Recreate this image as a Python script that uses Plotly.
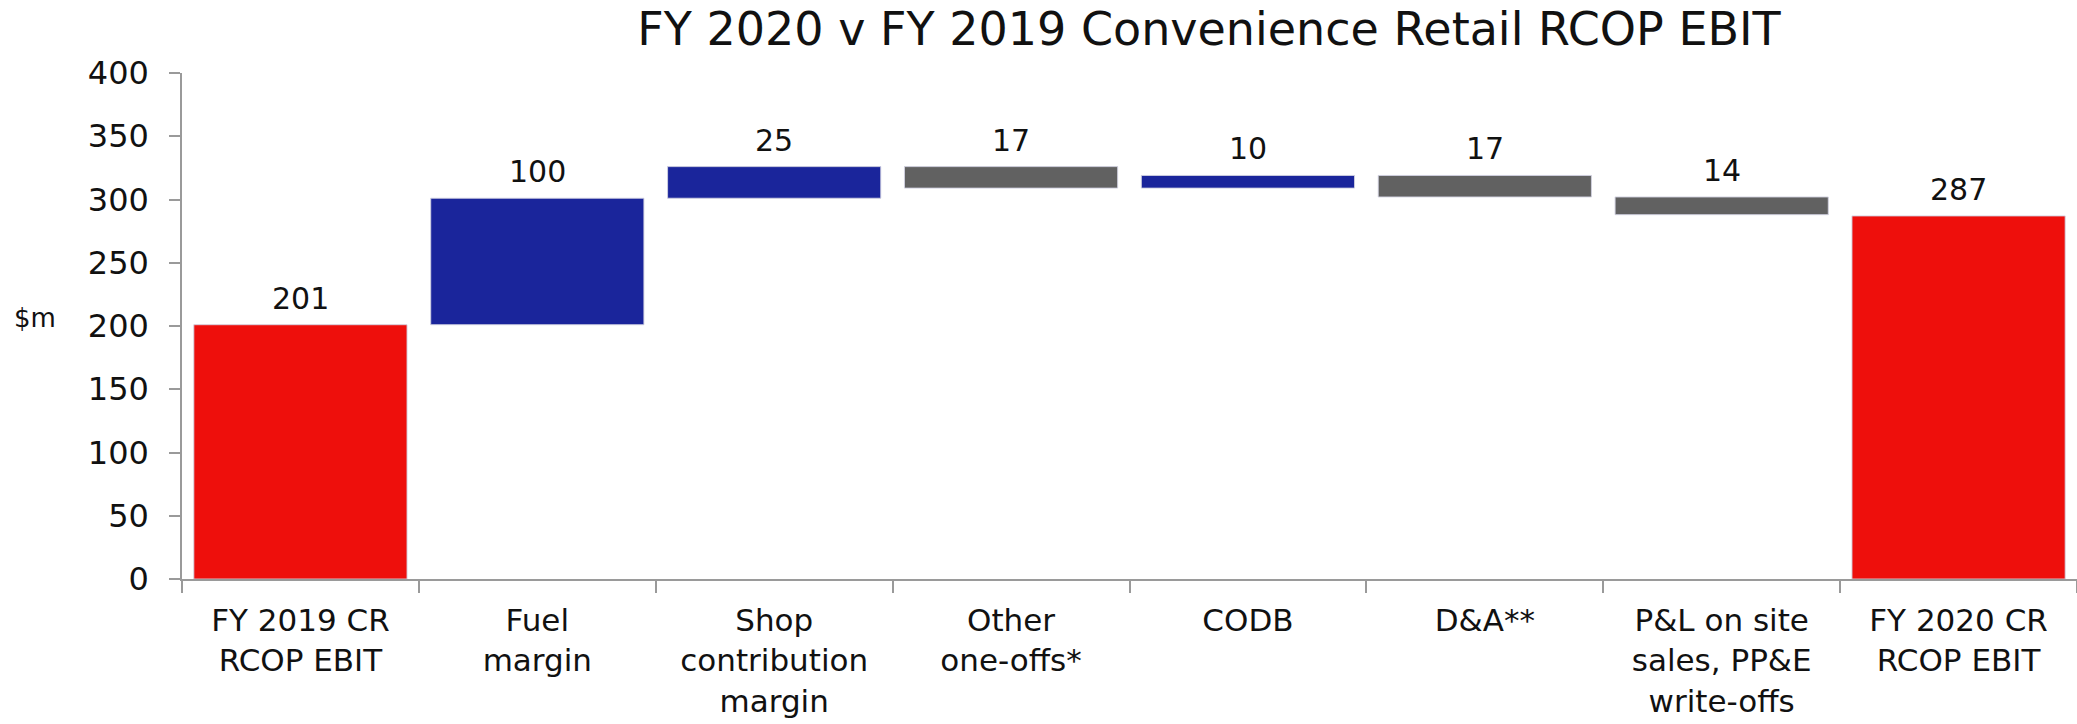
import plotly.graph_objects as go

categories = ["FY 2019 CR<br>RCOP EBIT", "Fuel<br>margin", "Shop<br>contribution<br>margin",
              "Other<br>one-offs*", "CODB", "D&A**", "P&L on site<br>sales, PP&E<br>write-offs",
              "FY 2020 CR<br>RCOP EBIT"]
measures = ["absolute", "relative", "relative", "relative", "relative", "relative", "relative", "absolute"]
values = [201, 100, 25, -17, 10, -17, -14, 287]
labels = ["201", "100", "25", "17", "10", "17", "14", "287"]

RED, BLUE, GREY = "#EE0F0C", "#1A259B", "#616161"

# compute floating bar bases from the running total
bases, heights, colors = [], [], []
running = 0
for m, v in zip(measures, values):
    if m == "absolute":
        bases.append(0)
        heights.append(v)
        colors.append(RED)
        running = v
    else:
        if v >= 0:
            bases.append(running)
            heights.append(v)
            colors.append(BLUE)
        else:
            bases.append(running + v)
            heights.append(-v)
            colors.append(GREY)
        running += v

FONT = "DejaVu Sans"
TXT = "#111"

fig = go.Figure(go.Bar(
    x=categories, y=heights, base=bases,
    marker=dict(color=colors, line=dict(color="rgba(210,210,225,0.9)", width=1)),
    width=0.9, hoverinfo="skip",
))

annotations = [dict(x=c, y=b + h, text=t, xref="x", yref="y", showarrow=False,
                    yanchor="bottom", yshift=7,
                    font=dict(family=FONT, size=30, color=TXT))
               for c, b, h, t in zip(categories, bases, heights, labels)]
annotations.append(dict(text="$m", xref="paper", yref="paper",
                        x=(12 - 182) / 1895, xanchor="left",
                        y=(579 - 318) / 506, yanchor="middle",
                        showarrow=False, font=dict(family=FONT, size=26, color=TXT)))

fig.update_layout(
    width=2077, height=724,
    margin=dict(l=182, r=0, t=73, b=145),
    paper_bgcolor="white", plot_bgcolor="white",
    showlegend=False,
    font=dict(family=FONT, color=TXT),
    title=dict(text="FY 2020 v FY 2019 Convenience Retail RCOP EBIT",
               x=1209/2077, xanchor="center", y=1 - 29/724, yanchor="middle",
               font=dict(family=FONT, size=46, color=TXT)),
    yaxis=dict(range=[0, 400], dtick=50, showgrid=False, zeroline=False,
               showline=True, linecolor="#9a9a9a", linewidth=1.5,
               ticks="outside", ticklen=11, tickcolor="#9a9a9a", tickwidth=1.5,
               tickfont=dict(family=FONT, size=32, color=TXT),
               ticklabelstandoff=14),
    xaxis=dict(showgrid=False, showline=True, linecolor="#9a9a9a", linewidth=1.5,
               ticks="outside", ticklen=12, tickcolor="#9a9a9a", tickwidth=1.5,
               tickson="boundaries",
               tickfont=dict(family=FONT, size=31, color=TXT),
               tickangle=0, ticklabelstandoff=13),
    annotations=annotations,
)

fig.write_html("out.html")
